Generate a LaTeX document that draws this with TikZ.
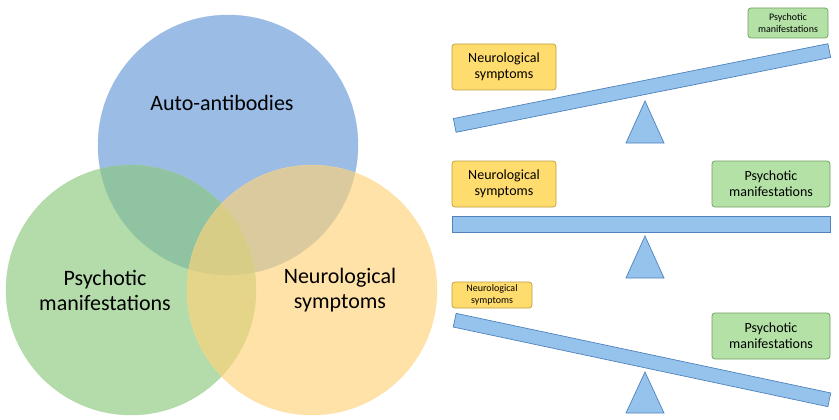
\documentclass[tikz,border=0pt]{standalone}
\usepackage{fontspec}
\setmainfont{Carlito}
\definecolor{cblue}{RGB}{120,165,220}
\definecolor{cgreen}{RGB}{140,200,125}
\definecolor{cyell}{RGB}{255,210,120}
\definecolor{bfill}{RGB}{150,195,235}
\definecolor{bdraw}{RGB}{80,130,190}
\definecolor{gfill}{RGB}{180,225,165}
\definecolor{gdraw}{RGB}{110,160,95}
\definecolor{yfill}{RGB}{255,220,110}
\definecolor{ydraw}{RGB}{190,160,60}
\begin{document}
\begin{tikzpicture}[x=1pt,y=-1pt,
 circ/.style={circle,minimum size=#1,inner sep=0},
 big/.style={font=\fontsize{22}{25}\selectfont,align=center},
 gbox/.style={draw=gdraw,fill=gfill,rounded corners=3pt,align=center,font=\fontsize{14}{16}\selectfont,inner sep=0,line width=0.7pt},
 ybox/.style={draw=ydraw,fill=yfill,rounded corners=3pt,align=center,font=\fontsize{14}{16}\selectfont,inner sep=0,line width=0.7pt},
 beam/.style={draw=bdraw,fill=bfill,minimum height=14pt,inner sep=0,line width=0.7pt},
 tri/.style={draw=bdraw,fill=bfill,line width=0.7pt}]
\useasboundingbox (0,0) rectangle (839,420);
\fill[cblue,opacity=0.75,draw=cblue!80!white] (228,145) circle (130);
\fill[cgreen,opacity=0.65,draw=cgreen!80!white] (131,290) circle (125);
\fill[cyell,opacity=0.65,draw=cyell!80!white] (312,290) circle (125);
\node[big] (aa) at (222,103) {Auto-antibodies};
\node[big] (pm) at (105,290) {Psychotic\\manifestations};
\node[big] (ns) at (340,290) {Neurological\\symptoms};
% top seesaw
\draw[tri] (645,101) -- (664,143) -- (626,143) -- cycle;
\node[beam,minimum width=382pt,rotate=11.3] (b1) at (642,88) {};
\node[ybox,minimum width=104pt,minimum height=46pt] (y1) at (504,67) {Neurological\\symptoms};
\node[gbox,minimum width=80pt,minimum height=30pt,font=\fontsize{10}{12}\selectfont] (g1) at (788,23) {Psychotic\\manifestations};
% middle
\draw[tri] (645,236) -- (664,278) -- (626,278) -- cycle;
\node[beam,minimum width=378pt,minimum height=16pt] (b2) at (641,224) {};
\node[ybox,minimum width=104pt,minimum height=46pt] (y2) at (504,184) {Neurological\\symptoms};
\node[gbox,minimum width=118pt,minimum height=46pt] (g2) at (771,184) {Psychotic\\manifestations};
% bottom
\draw[tri] (645,372) -- (664,413) -- (626,413) -- cycle;
\node[beam,minimum width=383pt,rotate=-12] (b3) at (642,360) {};
\node[ybox,minimum width=80pt,minimum height=26pt,font=\fontsize{10}{12}\selectfont] (y3) at (492,295) {Neurological\\symptoms};
\node[gbox,minimum width=118pt,minimum height=46pt] (g3) at (771,336) {Psychotic\\manifestations};
\end{tikzpicture}
\end{document}
